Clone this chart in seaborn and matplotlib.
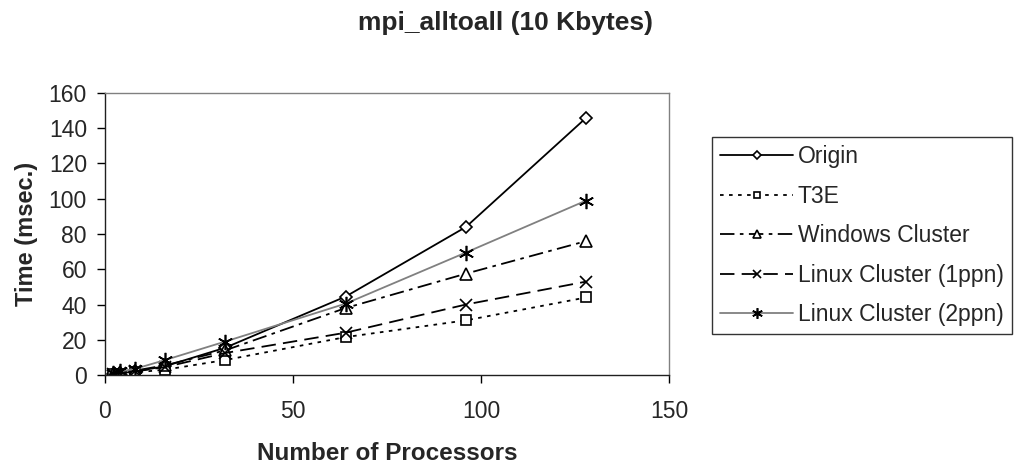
import matplotlib
matplotlib.use("Agg")
import matplotlib.pyplot as plt
import seaborn as sns
import pandas as pd

procs = [2, 4, 8, 16, 32, 64, 96, 128]
origin = [0.5, 1.0, 2.0, 5.0, 15.5, 44.5, 84, 146]
t3e = [0.3, 0.7, 1.5, 3.0, 8.5, 21.5, 31, 44]
windows = [0.8, 1.5, 2.5, 5.5, 14, 38, 57.5, 76]
linux1 = [0.5, 1.0, 2.0, 4.5, 12.5, 24, 40, 53]
linux2 = [1.0, 2.0, 3.5, 8.5, 19, 40.5, 69.5, 99]
names = ["Origin", "T3E", "Windows Cluster", "Linux Cluster (1ppn)", "Linux Cluster (2ppn)"]
series = [origin, t3e, windows, linux1, linux2]

sns.set_style("white")
plt.rcParams['font.family'] = ['Liberation Sans', 'DejaVu Sans']

fig = plt.figure(figsize=(10.2, 4.65), dpi=100)
ax = fig.add_axes([105/1020, 1-375/465, (669-105)/1020, (375-93)/465])

styles = [
    dict(color="black", linestyle="-", marker="D", ms=6.5),
    dict(color="black", linestyle=(0, (2, 3)), marker="s", ms=6.5),
    dict(color="black", linestyle=(0, (8, 3, 2, 3)), marker="^", ms=8),
    dict(color="black", linestyle=(0, (8, 4)), marker="x", ms=8.5),
    dict(color="#808080", linestyle="-", marker=(6, 2, 0), ms=11),
]

for name, vals, st in zip(names, series, styles):
    df = pd.DataFrame({"x": procs, "y": vals})
    sns.lineplot(data=df, x="x", y="y", ax=ax, label=name,
                 color=st["color"], linestyle=st["linestyle"], marker=st["marker"],
                 markersize=st["ms"], markerfacecolor="white", markeredgecolor="black",
                 markeredgewidth=1.2, linewidth=1.3)

ax.set_xlim(0, 150)
ax.set_ylim(0, 160)
ax.set_xticks([0, 50, 100, 150])
ax.set_yticks(range(0, 161, 20))
ax.tick_params(axis="both", labelsize=16.5, length=6, width=1, direction="out",
               bottom=True, left=True, color="black")
ax.tick_params(axis="x", pad=12)
ax.tick_params(axis="y", pad=7)
for s in ["top", "right"]:
    ax.spines[s].set_color("#808080")
for s in ["left", "bottom"]:
    ax.spines[s].set_color("#202020")
for s in ax.spines.values():
    s.set_linewidth(1)

ax.set_xlabel("Number of Processors", fontsize=17.5, fontweight="bold", labelpad=14)
ax.set_ylabel("Time (msec.)", fontsize=17, fontweight="bold", labelpad=8)
fig.text(0.496, 1-23/465, "mpi_alltoall (10 Kbytes)", ha="center", va="center",
         fontsize=19, fontweight="bold")

leg = ax.legend(loc="upper left", bbox_to_anchor=(712/1020, 1-137/465),
                bbox_transform=fig.transFigure, frameon=True, fancybox=False,
                edgecolor="black", fontsize=16.5, handlelength=3.2, labelspacing=0.72,
                borderpad=0.35, handletextpad=0.2, borderaxespad=0, markerscale=0.7)
leg.get_frame().set_linewidth(1)

fig.savefig("out.png", dpi=100)
